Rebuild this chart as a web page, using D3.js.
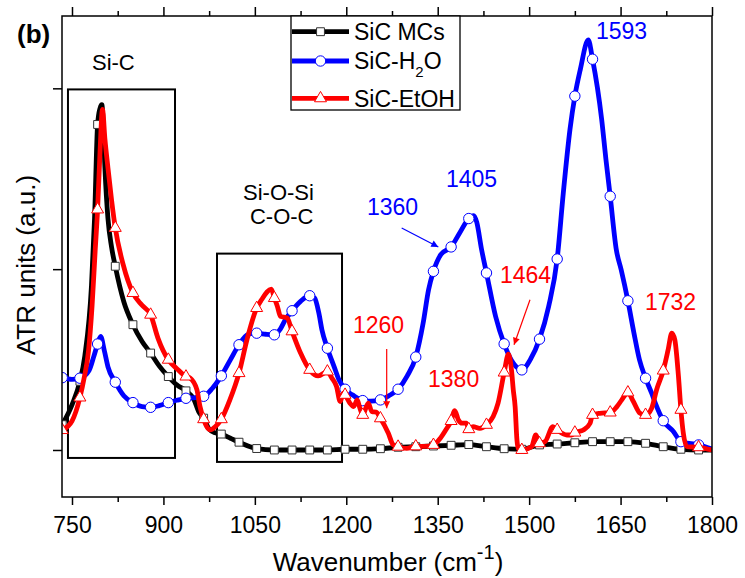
<!DOCTYPE html>
<html>
<head>
<meta charset="utf-8">
<script src="https://cdn.jsdelivr.net/npm/d3@7"></script>
<style>
  body { margin: 0; background: #fff; }
  svg { display: block; font-family: "Liberation Sans", Arial, sans-serif; }
</style>
</head>
<body>
<svg id="chart" width="745" height="578"></svg>
<script>
// ---------------- data ----------------
// wavenumbers (cm^-1) at which the symbol markers sit
const markerW = [734, 763, 792, 821, 850, 879, 908, 937, 966, 995, 1024, 1053, 1082, 1111,
  1140, 1169, 1198, 1227, 1256, 1285, 1314, 1343, 1372, 1401, 1430, 1459, 1488, 1517,
  1546, 1575, 1604, 1633, 1662, 1691, 1720, 1749, 1778];

// SiC MCs (black, squares)
const mcsW = [734, 750, 763, 771, 782, 787, 792, 796, 799, 801, 804, 809, 815, 821, 835, 850,
  865, 879, 893, 908, 922, 937, 950, 958, 966, 975, 985, 995, 1010, 1024, 1053, 1082, 1111,
  1140, 1169, 1198, 1227, 1256, 1285, 1314, 1343, 1372, 1401, 1430, 1459, 1488, 1517, 1546,
  1575, 1604, 1633, 1662, 1691, 1720, 1749, 1778, 1800];
const mcsV = [0.14, 0.25, 0.38, 0.52, 0.91, 1.28, 1.80, 1.89, 1.91, 1.82, 1.56, 1.28, 1.12,
  1.016, 0.82, 0.693, 0.60, 0.536, 0.465, 0.406, 0.36, 0.327, 0.28, 0.21, 0.176, 0.115, 0.095,
  0.088, 0.065, 0.043, 0.008, 0.0, 0.0, 0.0, 0.0, 0.004, 0.004, 0.007, 0.015, 0.018, 0.022,
  0.026, 0.030, 0.018, 0.007, 0.004, 0.028, 0.033, 0.040, 0.046, 0.046, 0.046, 0.037, 0.018,
  0.004, 0.0, 0.0];

// SiC-H2O (blue, circles)
const h2oW = [734, 750, 763, 778, 786, 792, 797, 803, 809, 821, 835, 850, 865, 879, 893, 908,
  922, 937, 952, 966, 980, 995, 1010, 1024, 1039, 1053, 1068, 1082, 1092, 1100, 1111, 1125,
  1140, 1148, 1155, 1160, 1169, 1180, 1188, 1198, 1210, 1227, 1240, 1256, 1270, 1285, 1300,
  1314, 1326, 1335, 1343, 1355, 1372, 1386, 1401, 1409, 1414, 1422, 1430, 1445, 1459, 1474,
  1488, 1502, 1517, 1532, 1546, 1556, 1567, 1575, 1584, 1597, 1604, 1619, 1626, 1633, 1643,
  1651, 1662, 1672, 1681, 1691, 1701, 1707, 1720, 1737, 1749, 1778, 1800];
const h2oV = [0.40, 0.39, 0.397, 0.44, 0.52, 0.586, 0.628, 0.55, 0.46, 0.375, 0.30, 0.262,
  0.24, 0.236, 0.245, 0.262, 0.275, 0.286, 0.29, 0.297, 0.34, 0.41, 0.50, 0.582, 0.64, 0.646,
  0.64, 0.637, 0.67, 0.72, 0.77, 0.822, 0.853, 0.84, 0.757, 0.665, 0.563, 0.461, 0.388, 0.336,
  0.305, 0.273, 0.27, 0.277, 0.30, 0.336, 0.41, 0.514, 0.70, 0.886, 0.988, 1.08, 1.123, 1.20,
  1.28, 1.296, 1.26, 1.108, 0.979, 0.738, 0.587, 0.48, 0.443, 0.50, 0.613, 0.794, 1.056, 1.42,
  1.773, 1.957, 2.105, 2.268, 2.161, 1.828, 1.607, 1.403, 1.108, 0.997, 0.825, 0.646, 0.499,
  0.397, 0.314, 0.259, 0.162, 0.101, 0.046, 0.028, 0.005];

// SiC-EtOH (red, triangles)
const etohW = [734, 750, 763, 770, 777, 783, 788, 792, 796, 800, 804, 809, 815, 821, 834, 850,
  865, 879, 891, 908, 922, 937, 944, 955, 960, 966, 971, 977, 985, 995, 1009, 1024, 1037,
  1053, 1061, 1077, 1082, 1087, 1092, 1103, 1111, 1125, 1140, 1154, 1169, 1176, 1184, 1190,
  1195, 1198, 1206, 1212, 1218, 1222, 1227, 1236, 1242, 1249, 1256, 1269, 1277, 1285, 1299,
  1314, 1328, 1343, 1354, 1365, 1372, 1378, 1384, 1390, 1397, 1401, 1408, 1419, 1430, 1441,
  1449, 1459, 1466, 1471, 1474, 1477, 1480, 1482, 1488, 1504, 1511, 1517, 1526, 1539, 1546,
  1562, 1570, 1575, 1589, 1600, 1604, 1616, 1633, 1644, 1652, 1662, 1671, 1682, 1691, 1701,
  1709, 1720, 1728, 1734, 1739, 1745, 1749, 1753, 1759, 1778, 1800];
const etohV = [0.11, 0.16, 0.29, 0.40, 0.545, 0.80, 1.10, 1.33, 1.65, 1.884, 1.72, 1.56, 1.38,
  1.228, 1.025, 0.868, 0.80, 0.748, 0.619, 0.499, 0.45, 0.406, 0.397, 0.332, 0.24, 0.17, 0.129,
  0.111, 0.129, 0.17, 0.277, 0.425, 0.609, 0.785, 0.831, 0.89, 0.84, 0.794, 0.739, 0.73, 0.656,
  0.536, 0.443, 0.41, 0.434, 0.40, 0.351, 0.268, 0.314, 0.305, 0.259, 0.24, 0.277, 0.235,
  0.194, 0.259, 0.212, 0.21, 0.175, 0.092, 0.028, 0.018, 0.009, 0.02, 0.02, 0.028, 0.064, 0.12,
  0.16, 0.218, 0.166, 0.148, 0.148, 0.115, 0.129, 0.12, 0.139, 0.185, 0.259, 0.428, 0.53, 0.443,
  0.332, 0.24, 0.055, 0.009, 0.0, 0.018, 0.083, 0.037, 0.046, 0.129, 0.111, 0.083, 0.083, 0.096,
  0.111, 0.148, 0.194, 0.203, 0.207, 0.24, 0.277, 0.318, 0.268, 0.203, 0.194, 0.231, 0.332,
  0.439, 0.554, 0.646, 0.609, 0.406, 0.222, 0.092, 0.018, 0.015, 0.0];

const seriesNames = ["SiC MCs", "SiC-H2O", "SiC-EtOH"];
const xMajorTicks = [750, 900, 1050, 1200, 1350, 1500, 1650, 1800];
const xMinorTicks = [825, 975, 1125, 1275, 1425, 1575, 1725];
const yTicks = [0, 1, 2];

// annotation texts anchored in data space (wavenumber, ATR units)
const peakLabels = [
  { t: "1593", w: 1609.7, v: 2.271, c: "#0000ff" },
  { t: "1405", w: 1363.6, v: 1.452, c: "#0000ff" },
  { t: "1360", w: 1234.0, v: 1.302, c: "#0000ff" },
  { t: "1464", w: 1452.2, v: 0.925, c: "#ff0000" },
  { t: "1732", w: 1690.1, v: 0.776, c: "#ff0000" },
  { t: "1260", w: 1211.0, v: 0.648, c: "#ff0000" },
  { t: "1380", w: 1334.1, v: 0.349, c: "#ff0000" }
];
const bandLabels = [
  { t: "Si-C", w: 782.8, v: 2.100 },
  { t: "Si-O-Si", w: 1030.6, v: 1.385 },
  { t: "C-O-C", w: 1042.0, v: 1.247 }
];
const arrows = [
  { w1: 1290.9, v1: 1.228, w2: 1351.0, v2: 1.123, c: "#0000ff" },
  { w1: 1501.4, v1: 0.831, w2: 1475.2, v2: 0.582, c: "#ff0000" },
  { w1: 1266.3, v1: 0.558, w2: 1266.3, v2: 0.231, c: "#ff0000" }
];
const bandBoxes = [
  { w1: 743.4, w2: 919.0, v1: -0.044, v2: 1.994 },
  { w1: 987.9, w2: 1193.0, v1: -0.066, v2: 1.086 }
];

// ---------------- drawing ----------------
const svg = d3.select("#chart");
const L = 62, R = 712, T = 16, B = 497;
const x = d3.scaleLinear().domain([733.6, 1800]).range([L, R]);
const y = d3.scaleLinear().domain([-0.26, 2.40]).range([B, T]);

svg.append("defs").append("clipPath").attr("id", "plotclip")
  .append("rect").attr("x", L).attr("y", T).attr("width", R - L).attr("height", B - T);

const defs = svg.select("defs");
["#0000ff", "#ff0000"].forEach((c, i) => {
  defs.append("marker").attr("id", "ah" + i)
    .attr("viewBox", "0 0 10 10").attr("refX", 10).attr("refY", 5)
    .attr("markerUnits", "userSpaceOnUse").attr("markerWidth", 9).attr("markerHeight", 7)
    .attr("orient", "auto")
    .append("path").attr("d", "M0,0 L10,5 L0,10 Z").attr("fill", c);
});

// axes
function styleAxis(g) {
  g.select(".domain").remove();
  g.selectAll(".tick line").attr("stroke", "#000").attr("stroke-width", 1.5);
}
svg.append("g").attr("transform", `translate(0,${B})`)
  .call(d3.axisBottom(x).tickValues(xMajorTicks).tickSize(8).tickPadding(12).tickFormat(d3.format("d")))
  .call(styleAxis)
  .selectAll("text").attr("font-size", 23).attr("fill", "#000")
  .attr("font-family", "Liberation Sans, Arial, sans-serif");
svg.append("g").attr("transform", `translate(0,${B})`)
  .call(d3.axisBottom(x).tickValues(xMinorTicks).tickSize(5).tickFormat(""))
  .call(styleAxis);
svg.append("g").attr("transform", `translate(0,${T})`)
  .call(d3.axisTop(x).tickValues(xMajorTicks).tickSize(9).tickFormat(""))
  .call(styleAxis);
svg.append("g").attr("transform", `translate(0,${T})`)
  .call(d3.axisTop(x).tickValues(xMinorTicks).tickSize(5).tickFormat(""))
  .call(styleAxis);
svg.append("g").attr("transform", `translate(${L},0)`)
  .call(d3.axisLeft(y).tickValues(yTicks).tickSize(9).tickFormat(""))
  .call(styleAxis);

// band boxes
svg.append("g").selectAll("rect").data(bandBoxes).join("rect")
  .attr("x", d => x(d.w1)).attr("y", d => y(d.v2))
  .attr("width", d => x(d.w2) - x(d.w1)).attr("height", d => y(d.v1) - y(d.v2))
  .attr("fill", "none").attr("stroke", "#000").attr("stroke-width", 2);

// series
const markerSet = new Set(markerW);
const series = [
  { name: seriesNames[0], w: mcsW, v: mcsV, color: "#000000", mstroke: "#333333", sym: d3.symbolSquare, size: 62 },
  { name: seriesNames[1], w: h2oW, v: h2oV, color: "#0000ff", mstroke: "#0000ff", sym: d3.symbolCircle, size: 85 },
  { name: seriesNames[2], w: etohW, v: etohV, color: "#ff0000", mstroke: "#ff0000", sym: d3.symbolTriangle, size: 62 }
];
const line = d3.line().x(d => x(d[0])).y(d => y(d[1])).curve(d3.curveMonotoneX);
const plotG = svg.append("g").attr("clip-path", "url(#plotclip)");
series.forEach(s => {
  const pts = s.w.map((w, i) => [w, s.v[i]]);
  plotG.append("path").datum(pts).attr("d", line)
    .attr("fill", "none").attr("stroke", s.color).attr("stroke-width", 4.8)
    .attr("stroke-linejoin", "round").attr("stroke-linecap", "round");
  plotG.append("g").selectAll("path").data(pts.filter(p => markerSet.has(p[0]))).join("path")
    .attr("transform", p => `translate(${x(p[0])},${y(p[1])})`)
    .attr("d", d3.symbol().type(s.sym).size(s.size))
    .attr("fill", "#fff").attr("stroke", s.mstroke).attr("stroke-width", 1);
});

// frame
svg.append("rect").attr("x", L).attr("y", T).attr("width", R - L).attr("height", B - T)
  .attr("fill", "none").attr("stroke", "#000").attr("stroke-width", 1.5);

// annotations
svg.append("g").selectAll("text").data(bandLabels).join("text")
  .attr("x", d => x(d.w)).attr("y", d => y(d.v)).attr("font-size", 22).attr("fill", "#000")
  .text(d => d.t);
svg.append("g").selectAll("text").data(peakLabels).join("text")
  .attr("x", d => x(d.w)).attr("y", d => y(d.v)).attr("font-size", 23).attr("fill", d => d.c)
  .text(d => d.t);
svg.append("g").selectAll("line").data(arrows).join("line")
  .attr("x1", d => x(d.w1)).attr("y1", d => y(d.v1)).attr("x2", d => x(d.w2)).attr("y2", d => y(d.v2))
  .attr("stroke", d => d.c).attr("stroke-width", 1.2)
  .attr("marker-end", d => d.c === "#0000ff" ? "url(#ah0)" : "url(#ah1)");

svg.append("text").attr("x", 17).attr("y", 43).attr("font-size", 26).attr("font-weight", "bold")
  .attr("fill", "#000").text("(b)");

// axis titles
const xt = svg.append("text").attr("x", (L + R) / 2 + 1).attr("y", 571).attr("text-anchor", "middle")
  .attr("font-size", 26).attr("fill", "#000");
xt.append("tspan").text("Wavenumber (cm");
xt.append("tspan").attr("font-size", 20).attr("dy", -12).text("-1");
xt.append("tspan").attr("dy", 12).text(")");
svg.append("text").attr("transform", "translate(35,265) rotate(-90)").attr("text-anchor", "middle")
  .attr("font-size", 26).attr("fill", "#000").text("ATR units (a.u.)");

// legend
const lg = svg.append("g");
lg.append("rect").attr("x", 291).attr("y", T).attr("width", 169).attr("height", 94)
  .attr("fill", "#fff").attr("stroke", "#000").attr("stroke-width", 1.3);
const rowsY = [31.7, 61, 98.3];
series.forEach((s, i) => {
  const ry = rowsY[i];
  lg.append("line").attr("x1", 292).attr("x2", 349).attr("y1", ry).attr("y2", ry)
    .attr("stroke", s.color).attr("stroke-width", 4.8);
  lg.append("path").attr("transform", `translate(320.5,${ry})`)
    .attr("d", d3.symbol().type(s.sym).size(s.size))
    .attr("fill", "#fff").attr("stroke", s.mstroke).attr("stroke-width", 1);
  const t = lg.append("text").attr("x", 354).attr("y", ry + 8.3).attr("font-size", 23).attr("fill", "#000");
  if (s.name === "SiC-H2O") {
    t.append("tspan").text("SiC-H");
    t.append("tspan").attr("font-size", 15).attr("dy", 8).text("2");
    t.append("tspan").attr("dy", -8).text("O");
  } else {
    t.text(s.name);
  }
});
</script>
</body>
</html>
